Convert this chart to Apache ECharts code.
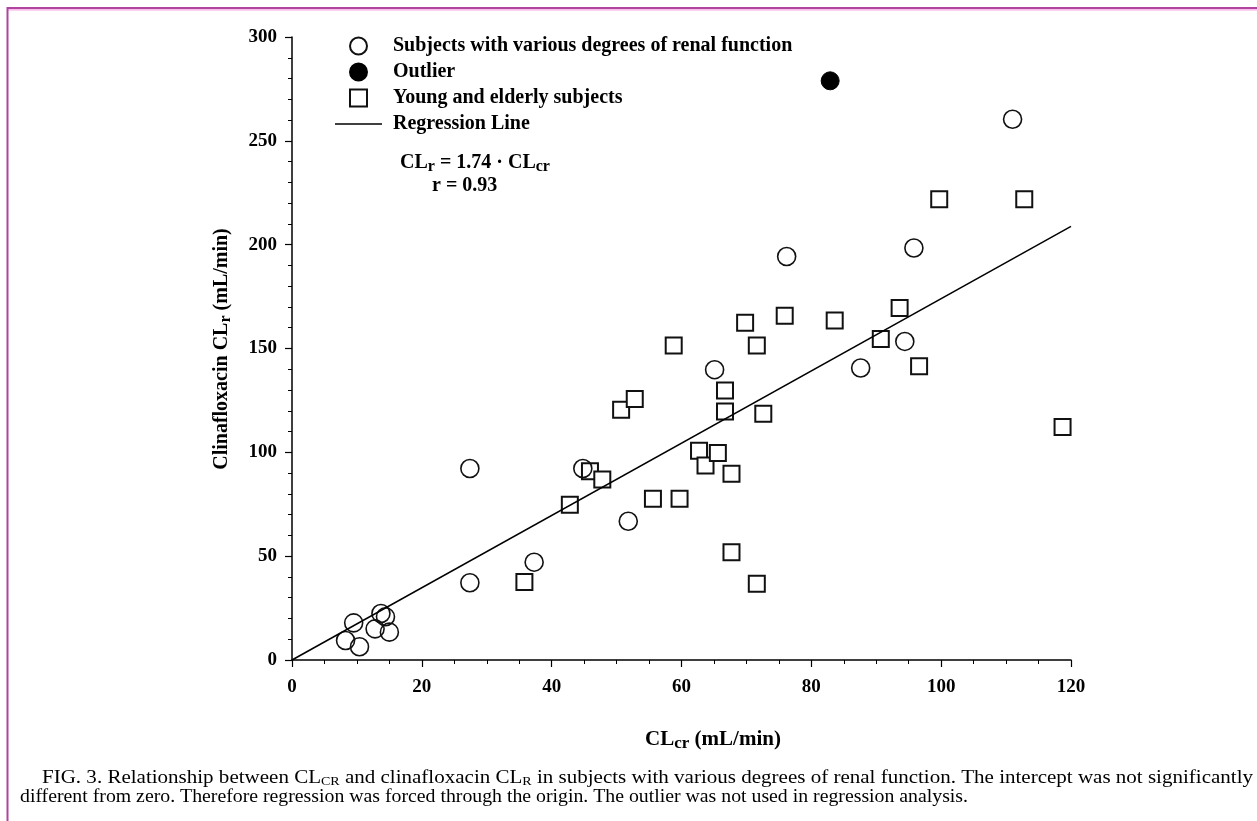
<!DOCTYPE html>
<html><head><meta charset="utf-8">
<script src="https://cdn.jsdelivr.net/npm/echarts@6/dist/echarts.min.js"></script>
<style>html,body{margin:0;padding:0;background:#fff}#c{width:1257px;height:821px}</style>
</head><body><div id="c"></div>
<script>
// ---- data ----
const renalX = [8.25, 9.5, 10.4, 12.8, 13.7, 14.4, 15.0, 27.4, 27.4, 37.3, 44.8, 51.8, 65.1, 76.2, 87.6, 94.4, 95.8, 111.0];
const renalY = [9.4, 17.9, 6.4, 15.0, 22.4, 20.8, 13.4, 92.2, 37.2, 47.1, 92.2, 66.8, 139.8, 194.3, 140.6, 153.4, 198.4, 260.4];
const outlierX = [82.9];
const outlierY = [278.9];
const youngX = [35.8, 42.8, 45.9, 47.8, 50.7, 52.8, 58.8, 55.6, 59.7, 62.7, 63.7, 65.6, 66.7, 66.7, 67.7, 67.7, 71.6, 72.6, 71.6, 69.8, 75.9, 83.6, 90.7, 93.6, 96.6, 99.7, 112.8, 118.7];
const youngY = [37.6, 74.8, 90.9, 86.9, 120.5, 125.7, 151.5, 77.7, 77.7, 100.8, 93.7, 99.7, 129.8, 119.7, 89.7, 51.9, 151.5, 118.6, 36.7, 162.4, 165.8, 163.5, 154.6, 169.5, 141.4, 221.9, 221.9, 112.2];
const regressionX = [0, 120];
const regressionY = [0, 208.8];
const xTickLabels = [0, 20, 40, 60, 80, 100, 120];
const yTickLabels = [0, 50, 100, 150, 200, 250, 300];
const seriesNames = ['Subjects with various degrees of renal function', 'Outlier', 'Young and elderly subjects', 'Regression Line'];

const zip = (a, b) => a.map((v, i) => [v, b[i]]);
const SERIF = '"Liberation Serif", "Times New Roman", serif';

function measure(text, size, weight) {
  const c = measure.c || (measure.c = document.createElement('canvas').getContext('2d'));
  c.font = (weight || 'normal') + ' ' + size + 'px ' + SERIF;
  return c.measureText(text).width;
}

// caption
const capSize = 18, capSub = 12;
const cap1 = [['FIG. 3. Relationship between CL', 'm'], ['CR', 's'], [' and clinafloxacin CL', 'm'], ['R', 's'], [' in subjects with various degrees of renal function. The intercept was not significantly', 'm']];
const cap2 = [['different from zero. Therefore regression was forced through the origin. The outlier was not used in regression analysis.', 'm']];
function capWidth(segs) { return segs.reduce((s, g) => s + measure(g[0], g[1] === 'm' ? capSize : capSub), 0); }
function capText(segs) { return segs.map(g => '{' + g[1] + '|' + g[0] + '}').join(''); }
const capRich = {
  m: { fontFamily: SERIF, fontSize: capSize, lineHeight: 20, color: '#111', verticalAlign: 'middle' },
  s: { fontFamily: SERIF, fontSize: capSub, lineHeight: 10, color: '#111', verticalAlign: 'bottom' }
};

const boldRich = (main, sub) => ({
  m: { fontFamily: SERIF, fontWeight: 'bold', fontSize: main, lineHeight: 24, color: '#000', verticalAlign: 'middle' },
  s: { fontFamily: SERIF, fontWeight: 'bold', fontSize: sub, lineHeight: 12, color: '#000', verticalAlign: 'bottom' }
});

const chart = echarts.init(document.getElementById('c'), null, { renderer: 'canvas' });
const option = {
  animation: false,
  backgroundColor: '#fff',
  grid: { left: 292, top: 37, right: 186, bottom: 161, containLabel: false },
  legend: {
    orient: 'vertical', left: 335, top: 36, padding: 0, itemWidth: 47, itemHeight: 17, itemGap: 6,
    symbolKeepAspect: true,
    textStyle: { fontFamily: SERIF, fontWeight: 'bold', fontSize: 20, color: '#000', padding: [0, 0, 0, 6] },
    data: [
      { name: seriesNames[0], icon: 'circle' },
      { name: seriesNames[1], icon: 'circle' },
      { name: seriesNames[2], icon: 'path://M0,0H15V15H0Z' },
      { name: seriesNames[3], icon: 'path://M0,0H47V1.6H0Z', itemStyle: { color: '#000', borderWidth: 0 } }
    ]
  },
  xAxis: {
    type: 'value', min: xTickLabels[0], max: xTickLabels[xTickLabels.length - 1], interval: xTickLabels[1] - xTickLabels[0],
    axisLine: { show: true, onZero: false, lineStyle: { color: '#000', width: 1.5 } },
    axisTick: { show: true, length: 7, lineStyle: { color: '#000', width: 1.2 } },
    minorTick: { show: true, splitNumber: 4, length: 4, lineStyle: { color: '#000', width: 1 } },
    splitLine: { show: false },
    axisLabel: { margin: 18, fontFamily: SERIF, fontWeight: 'bold', fontSize: 19, color: '#000' }
  },
  yAxis: {
    type: 'value', min: yTickLabels[0], max: yTickLabels[yTickLabels.length - 1], interval: yTickLabels[1] - yTickLabels[0],
    axisLine: { show: true, onZero: false, lineStyle: { color: '#000', width: 1.5 } },
    axisTick: { show: true, length: 7, lineStyle: { color: '#000', width: 1.2 } },
    minorTick: { show: true, splitNumber: 5, length: 4, lineStyle: { color: '#000', width: 1 } },
    splitLine: { show: false },
    axisLabel: { margin: 15, fontFamily: SERIF, fontWeight: 'bold', fontSize: 19, color: '#000' }
  },
  series: [
    { name: seriesNames[0], type: 'scatter', symbol: 'circle', symbolSize: 18, z: 3,
      itemStyle: { color: 'rgba(255,255,255,0)', borderColor: '#111', borderWidth: 1.6, opacity: 1 },
      data: zip(renalX, renalY) },
    { name: seriesNames[1], type: 'scatter', symbol: 'circle', symbolSize: 18, z: 3,
      itemStyle: { color: '#000', borderColor: '#000', borderWidth: 1, opacity: 1 },
      data: zip(outlierX, outlierY) },
    { name: seriesNames[2], type: 'scatter', symbol: 'rect', symbolSize: 16, z: 2,
      itemStyle: { color: '#fff', borderColor: '#111', borderWidth: 2, opacity: 1 },
      data: zip(youngX, youngY) },
    { name: seriesNames[3], type: 'line', symbol: 'none', z: 4,
      itemStyle: { color: '#000' },
      lineStyle: { color: '#000', width: 1.5 },
      data: zip(regressionX, regressionY) }
  ],
  graphic: [
    // page border
    { type: 'line', shape: { x1: 7, y1: 8, x2: 1257, y2: 8 }, style: { stroke: '#b0449e', lineWidth: 2 } },
    { type: 'line', shape: { x1: 8, y1: 9.8, x2: 1257, y2: 9.8 }, style: { stroke: '#f4a8e2', lineWidth: 1.2 } },
    { type: 'line', shape: { x1: 7.5, y1: 7, x2: 7.5, y2: 821 }, style: { stroke: '#b0449e', lineWidth: 2 } },
    // equation
    { type: 'text', x: 400, y: 163, style: { text: '{m|CL}{s|r}{m| = 1.74 · CL}{s|cr}', rich: boldRich(20, 16), verticalAlign: 'middle' } },
    { type: 'text', x: 432, y: 186, style: { text: '{m|r = 0.93}', rich: boldRich(20, 16), verticalAlign: 'middle' } },
    // axis titles
    { type: 'text', x: 222, y: 349, rotation: Math.PI / 2,
      style: { text: '{m|Clinafloxacin CL}{s|r}{m| (mL/min)}', rich: boldRich(20, 16), align: 'center', verticalAlign: 'middle' } },
    { type: 'text', x: 713, y: 740,
      style: { text: '{m|CL}{s|cr}{m| (mL/min)}', rich: boldRich(21, 17), align: 'center', verticalAlign: 'middle' } },
    // caption
    { type: 'text', x: 42, y: 778, scaleX: 1211 / capWidth(cap1), originX: 0,
      style: { text: capText(cap1), rich: capRich, verticalAlign: 'middle' } },
    { type: 'text', x: 20, y: 797, scaleX: 948 / capWidth(cap2), originX: 0,
      style: { text: capText(cap2), rich: capRich, verticalAlign: 'middle' } }
  ]
};
chart.setOption(option);
</script>
</body></html>
